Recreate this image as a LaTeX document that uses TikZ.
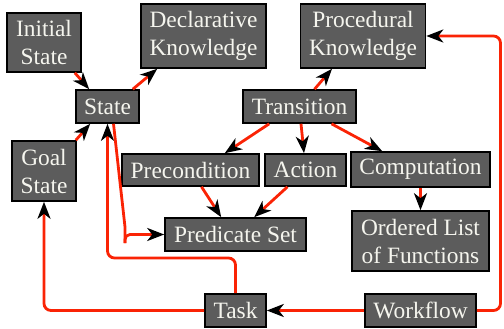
\documentclass[tikz,border=0pt]{standalone}
\usepackage{fontspec}
\setmainfont{Liberation Serif}
\usetikzlibrary{arrows.meta,calc}
\definecolor{boxfill}{RGB}{92,92,92}
\definecolor{boxtext}{RGB}{245,245,238}
\definecolor{edgered}{RGB}{250,35,5}
\tikzset{
 box/.style={draw=black, line width=1.6pt, fill=boxfill, text=boxtext, align=center, inner sep=0pt, font=\fontsize{23.4}{28}\selectfont},
 edge/.style={draw=edgered, line width=2.8pt, -{Stealth[length=17pt,width=13pt,inset=5pt,black]}},
 plain/.style={draw=edgered, line width=2.8pt},
}
\begin{document}
\begin{tikzpicture}[x=1pt,y=-1pt]
\useasboundingbox (0,0) rectangle (504,329);
\node[box, minimum width=74pt, minimum height=59pt] (init) at (44,42.5) {Initial\\State};
\node[box, minimum width=125pt, minimum height=64pt] (decl) at (203.5,36) {Declarative\\Knowledge};
\node[box, minimum width=63pt, minimum height=33pt] (state) at (107.5,106.5) {State};
\node[box, minimum width=125pt, minimum height=64pt] (proc) at (363,36) {Procedural\\Knowledge};
\node[box, minimum width=113pt, minimum height=33pt] (trans) at (299.5,106.5) {Transition};
\node[box, minimum width=64pt, minimum height=60pt] (goal) at (44,171) {Goal\\State};
\node[box, minimum width=137pt, minimum height=32pt] (precond) at (190.5,170) {Precondition};
\node[box, minimum width=81pt, minimum height=32pt] (action) at (305.5,170) {Action};
\node[box, minimum width=139pt, minimum height=35pt] (comp) at (420.5,169.5) {Computation};
\node[box, minimum width=141pt, minimum height=33pt] (pred) at (235.5,234.5) {Predicate Set};
\node[box, minimum width=137pt, minimum height=60pt] (ord) at (420.5,241) {Ordered List\\of Functions};
\node[box, minimum width=61pt, minimum height=33pt] (task) at (235.5,310.5) {Task};
\node[box, minimum width=111pt, minimum height=33pt] (wf) at (420.5,310.5) {Workflow};

\draw[edge] ($(init.south east)+(-7,0)$) -- ($(state.north west)+(14,0)$);
\draw[edge] ($(state.north east)+(-7,0)$) -- ($(decl.south west)+(17,0)$);
\draw[edge] ($(goal.north east)+(-1,0)$) -- ($(state.south west)+(15,0)$);
\draw[edge] ($(trans.north)+(15,0)$) -- ($(proc.south)+(-31,0)$);
\draw[edge] ($(trans.south west)+(27,0)$) -- ($(precond.north east)+(-35,0)$);
\draw[edge] ($(trans.south)+(1.5,0)$) -- ($(action.north)+(-1.5,0)$);
\draw[edge] ($(trans.south)+(32,0)$) -- ($(comp.north west)+(32,0)$);
\draw[edge] (comp.south) -- (ord.north);
\draw[edge] ($(precond.south)+(11,0)$) -- ($(pred.north west)+(57,0)$);
\draw[edge] ($(action.south)+(-18,0)$) -- ($(pred.north west)+(90,0)$);
\draw[edge] (wf.west) -- (task.east);

\coordinate (tsc) at (107.5,258);
\draw[edge, rounded corners=7pt] (task.north) |- (tsc) -- (state.south);
\draw[edge, rounded corners=7pt] (task.west) -| (goal.south);
\coordinate (wpc) at (500.5,36);
\draw[edge, rounded corners=7pt] (wf.east) -| (wpc) -- (proc.east);

\coordinate (sp1) at (125,227);
\coordinate (sp2) at (125,243);
\draw[plain] ($(state.south)+(6,0)$) -- (sp1) -- (sp2);
\draw[edge, rounded corners=5pt] (sp2) |- (pred.west);
\end{tikzpicture}
\end{document}
